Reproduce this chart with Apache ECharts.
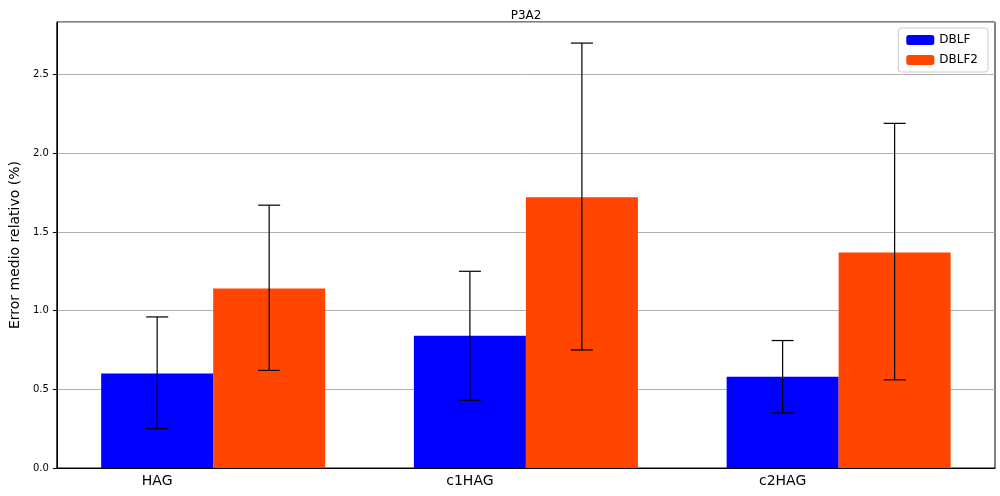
<!DOCTYPE html>
<html>
<head>
<meta charset="utf-8">
<script src="https://cdn.jsdelivr.net/npm/echarts@6/dist/echarts.min.js"></script>
<style>
  html, body { margin: 0; padding: 0; background: #fff; }
  #chart { width: 1000px; height: 496px; }
</style>
</head>
<body>
<div id="chart"></div>
<script>
let categories = ['HAG', 'c1HAG', 'c2HAG'];
let dblf = [0.60, 0.84, 0.58];
let dblf2 = [1.14, 1.72, 1.37];
// error bar low / high
let dblfErr = [[0.25, 0.96], [0.43, 1.25], [0.35, 0.81]];
let dblf2Err = [[0.62, 1.67], [0.75, 2.70], [0.56, 2.19]];

let barW = 112;

function errorSeries(errs, offset) {
    return {
        type: 'custom',
        z: 10,
        data: errs.map((e, i) => [i, e[0], e[1]]),
        renderItem: function (params, api) {
            let lo = api.coord([api.value(0), api.value(1)]);
            let hi = api.coord([api.value(0), api.value(2)]);
            let x = lo[0] + offset;
            let cap = 11;
            let st = { stroke: '#000', lineWidth: 1.2 };
            return {
                type: 'group',
                children: [
                    { type: 'line', shape: { x1: x, y1: lo[1], x2: x, y2: hi[1] }, style: st },
                    { type: 'line', shape: { x1: x - cap, y1: lo[1], x2: x + cap, y2: lo[1] }, style: st },
                    { type: 'line', shape: { x1: x - cap, y1: hi[1], x2: x + cap, y2: hi[1] }, style: st }
                ]
            };
        }
    };
}

let chart = echarts.init(document.getElementById('chart'));
chart.setOption({
    animation: false,
    title: {
        text: 'P3A2', left: 521, top: 5, textAlign: 'center',
        textStyle: { fontSize: 12, fontWeight: 'normal', color: '#000', fontFamily: 'DejaVu Sans' }
    },
    legend: {
        data: ['DBLF', 'DBLF2'],
        orient: 'vertical',
        right: 12, top: 28,
        itemWidth: 28, itemHeight: 10, itemGap: 8,
        borderColor: '#ccc', borderWidth: 1, borderRadius: 3,
        padding: [6, 10, 6, 8],
        textStyle: { fontSize: 12, color: '#000', fontFamily: 'DejaVu Sans' }
    },
    grid: {
        left: 48, right: 5, top: 22, bottom: 28,
        show: true, borderColor: '#000', borderWidth: 1
    },
    xAxis: {
        type: 'category',
        data: categories,
        axisLine: { lineStyle: { color: '#000' } },
        axisTick: { show: false },
        axisLabel: {
            fontSize: 14, color: '#000', fontFamily: 'DejaVu Sans',
            padding: [0, barW, 0, 0], margin: 6
        }
    },
    yAxis: {
        type: 'value',
        min: 0, max: 2.834, interval: 0.5,
        name: 'Error medio relativo (%)',
        nameLocation: 'middle', nameGap: 30,
        nameTextStyle: { fontSize: 14, color: '#000', fontFamily: 'DejaVu Sans' },
        axisLine: { show: true, lineStyle: { color: '#000' } },
        axisTick: { show: true, length: 4, lineStyle: { color: '#000' } },
        axisLabel: {
            fontSize: 10, color: '#000', fontFamily: 'DejaVu Sans',
            formatter: v => v.toFixed(1), showMaxLabel: false
        },
        splitLine: { lineStyle: { color: '#b0b0b0' } }
    },
    series: [
        { name: 'DBLF', type: 'bar', data: dblf, barWidth: barW, barGap: '0%', itemStyle: { color: '#0000ff' } },
        { name: 'DBLF2', type: 'bar', data: dblf2, barWidth: barW, itemStyle: { color: '#ff4500' } },
        errorSeries(dblfErr, -barW / 2),
        errorSeries(dblf2Err, barW / 2)
    ]
});
</script>
</body>
</html>
